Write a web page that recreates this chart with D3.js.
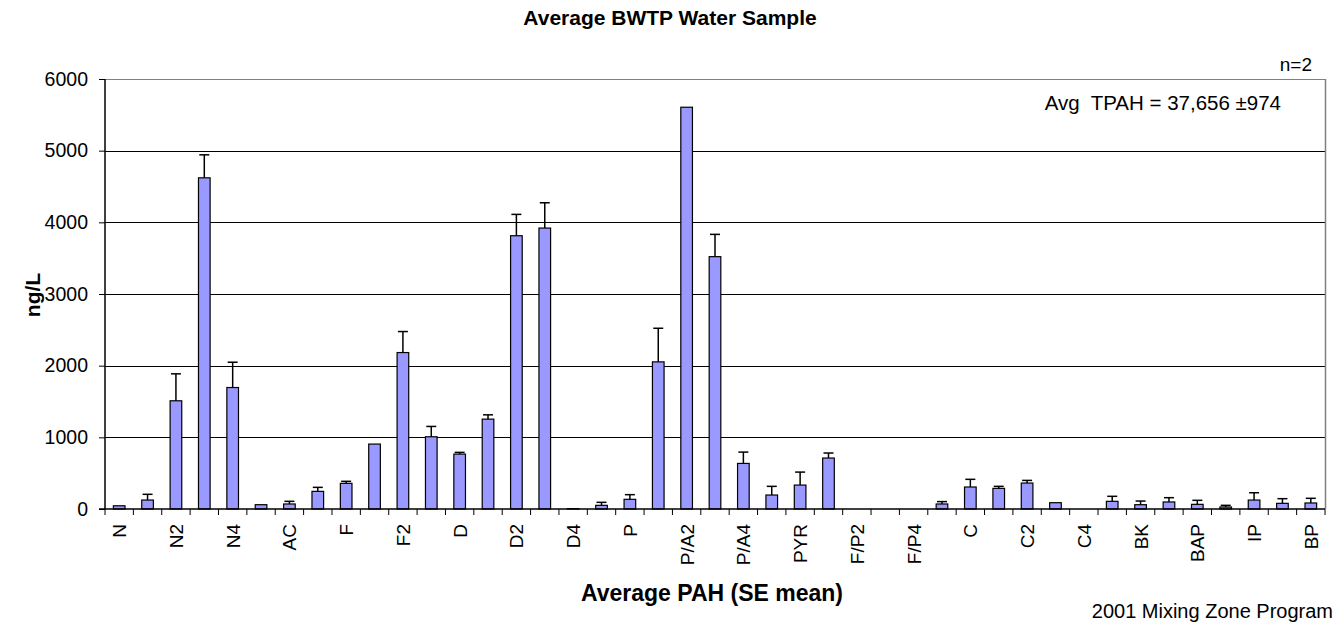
<!DOCTYPE html>
<html>
<head>
<meta charset="utf-8">
<script src="https://cdn.jsdelivr.net/npm/d3@7"></script>
<style>
  body { margin: 0; background: #fff; }
  svg { font-family: "Liberation Sans", Arial, sans-serif; }
</style>
</head>
<body>
<svg id="chart" width="1340" height="628"></svg>
<script>
// Données
const categories = ["N", "N1", "N2", "N3", "N4", "ACL", "AC", "BF", "F", "F1", "F2", "F3",
  "D", "D1", "D2", "D3", "D4", "A", "P", "P/A1", "P/A2", "P/A3", "P/A4", "FL", "PYR",
  "F/P1", "F/P2", "F/P3", "F/P4", "BA", "C", "C1", "C2", "C3", "C4", "BB", "BK", "BE",
  "BAP", "PER", "IP", "DA", "BP"]
const moyennes = [45, 125, 1510, 4621, 1695, 60, 70, 246, 358, 906, 2183, 1008,
  766, 1254, 3813, 3920, 5, 51, 135, 2053, 5606, 3521, 636, 195, 334,
  711, 0, 0, 0, 70, 307, 288, 362, 88, 0, 107, 60, 98,
  65, 28, 125, 79, 84]
const erreurs = [0, 80, 376, 321, 353, 0, 37, 56, 28, 0, 293, 144,
  24, 60, 298, 353, 0, 42, 65, 469, 0, 311, 158, 121, 181,
  70, 0, 0, 0, 33, 107, 28, 37, 0, 0, 70, 51, 60,
  56, 23, 102, 65, 65]
const yTicks = [0, 1000, 2000, 3000, 4000, 5000, 6000]

const titre = "Average BWTP Water Sample"
const titreX = "Average PAH (SE mean)"
const titreY = "ng/L"
const noteN = "n=2"
const noteTPAH = "Avg  TPAH = 37,656 ±974"
const source = "2001 Mixing Zone Program"

// Zone de tracé
const gauche = 105, droite = 1325, haut = 79, bas = 509

const svg = d3.select("#chart")

const x = d3.scaleBand().domain(categories).range([gauche, droite]).padding(0)
const y = d3.scaleLinear().domain([0, 6000]).range([bas, haut])
const barW = x.bandwidth() * 0.41

// Grille
svg.append("g")
  .selectAll("line")
  .data(yTicks.filter(d => d > 0))
  .join("line")
  .attr("x1", gauche).attr("x2", droite)
  .attr("y1", d => Math.round(y(d)) + 0.5).attr("y2", d => Math.round(y(d)) + 0.5)
  .attr("stroke", d => d === 6000 ? "#808080" : "#000")
  .attr("stroke-width", 1)

// bordure droite
svg.append("line")
  .attr("x1", droite + 0.5).attr("x2", droite + 0.5)
  .attr("y1", haut).attr("y2", bas)
  .attr("stroke", "#808080").attr("stroke-width", 1.5)

// Barres
const data = categories.map((c, i) => ({ cat: c, v: moyennes[i], e: erreurs[i] }))

svg.append("g")
  .selectAll("rect")
  .data(data.filter(d => d.v > 0))
  .join("rect")
  .attr("x", d => x(d.cat) + (x.bandwidth() - barW) / 2)
  .attr("y", d => y(d.v))
  .attr("width", barW)
  .attr("height", d => bas - y(d.v))
  .attr("fill", "#9999FF")
  .attr("stroke", "#000")
  .attr("stroke-width", 1.2)

// Barres d'erreur (vers le haut seulement)
const err = svg.append("g").attr("stroke", "#000").attr("stroke-width", 1.5)
const avecErr = data.filter(d => d.e > 0)
err.selectAll("line.v")
  .data(avecErr)
  .join("line")
  .attr("class", "v")
  .attr("x1", d => x(d.cat) + x.bandwidth() / 2).attr("x2", d => x(d.cat) + x.bandwidth() / 2)
  .attr("y1", d => y(d.v)).attr("y2", d => y(d.v + d.e))
err.selectAll("line.h")
  .data(avecErr)
  .join("line")
  .attr("class", "h")
  .attr("x1", d => x(d.cat) + x.bandwidth() / 2 - 5).attr("x2", d => x(d.cat) + x.bandwidth() / 2 + 5)
  .attr("y1", d => y(d.v + d.e)).attr("y2", d => y(d.v + d.e))

// Axe Y
const axeY = svg.append("g")
  .attr("transform", `translate(${gauche},0)`)
  .call(d3.axisLeft(y).tickValues(yTicks).tickSize(6).tickPadding(11).tickFormat(d3.format("d")))
axeY.select(".domain").attr("stroke", "#000").attr("stroke-width", 1.5).attr("d", `M0,${haut}V${bas}`)
axeY.selectAll(".tick line").attr("stroke", "#000")
axeY.selectAll(".tick text")
  .attr("font-size", 19.5).attr("fill", "#000")
  .attr("font-family", "Liberation Sans, Arial, sans-serif")

// Axe X : traits entre les catégories
const axeX = svg.append("g").attr("transform", `translate(0,${bas})`)
axeX.append("line")
  .attr("x1", gauche - 6).attr("x2", droite)
  .attr("stroke", "#000").attr("stroke-width", 1.5)
axeX.selectAll("line.tick")
  .data(categories.concat(["fin"]))
  .join("line")
  .attr("class", "tick")
  .attr("x1", (d, i) => gauche + i * x.step()).attr("x2", (d, i) => gauche + i * x.step())
  .attr("y1", 0).attr("y2", 6)
  .attr("stroke", "#000").attr("stroke-width", 1)

axeX.selectAll("text")
  .data(categories.filter((d, i) => i % 2 === 0))
  .join("text")
  .attr("transform", d => `translate(${x(d) + x.bandwidth() / 2 + 7},15) rotate(-90)`)
  .attr("text-anchor", "end")
  .attr("font-size", 19)
  .text(d => d)

// Textes
svg.append("text")
  .attr("x", 670).attr("y", 25)
  .attr("text-anchor", "middle").attr("font-weight", "bold").attr("font-size", 21)
  .text(titre)

svg.append("text")
  .attr("transform", "translate(40,295) rotate(-90)")
  .attr("text-anchor", "middle").attr("font-weight", "bold").attr("font-size", 21)
  .text(titreY)

svg.append("text")
  .attr("x", 712).attr("y", 601)
  .attr("text-anchor", "middle").attr("font-weight", "bold").attr("font-size", 23)
  .text(titreX)

svg.append("text")
  .attr("x", 1312).attr("y", 71)
  .attr("text-anchor", "end").attr("font-size", 19)
  .text(noteN)

svg.append("text")
  .attr("x", 1281).attr("y", 110)
  .attr("text-anchor", "end").attr("font-size", 20.5)
  .style("white-space", "pre")
  .text(noteTPAH)

svg.append("text")
  .attr("x", 1333).attr("y", 618)
  .attr("text-anchor", "end").attr("font-size", 20)
  .text(source)
</script>
</body>
</html>
